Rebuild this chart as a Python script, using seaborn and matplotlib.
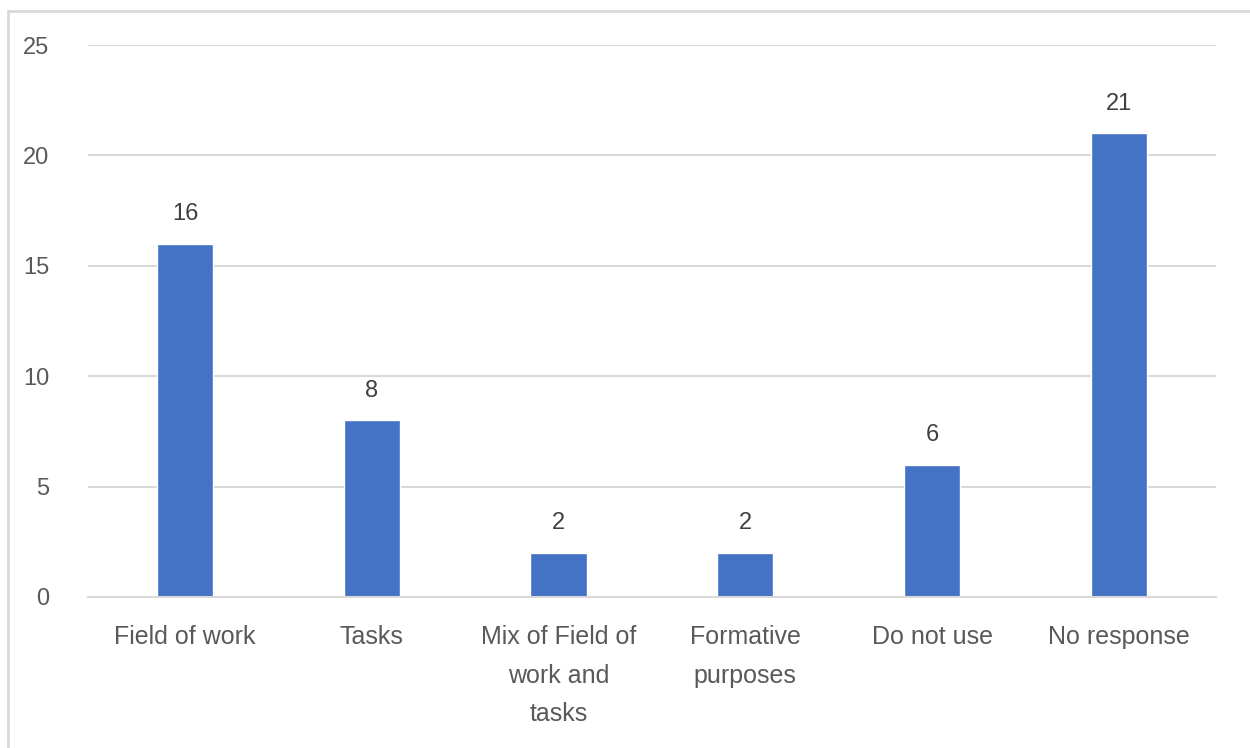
import matplotlib
matplotlib.use("Agg")
import matplotlib.pyplot as plt
import seaborn as sns
import pandas as pd
from matplotlib.patches import Rectangle

# data ------------------------------------------------------------------------
categories = ["Field of work", "Tasks", "Mix of Field of\nwork and\ntasks",
              "Formative\npurposes", "Do not use", "No response"]
counts = [16, 8, 2, 2, 6, 21]
y_ticks = [0, 5, 10, 15, 20, 25]

df = pd.DataFrame({"category": categories, "count": counts})

sns.set_style("white")
plt.rcParams["font.family"] = ["Liberation Sans", "DejaVu Sans"]

fig = plt.figure(figsize=(12.5, 7.48), dpi=100)
ax = fig.add_axes([0.0704, 0.2019, 0.9024, 0.7379])

sns.barplot(data=df, x="category", y="count", color="#4472C4",
            width=0.3, saturation=1, ax=ax)

# value labels
for i, v in enumerate(counts):
    ax.text(i, v + 1.35, str(v), ha="center", va="center",
            fontsize=17, color="#404040")

ax.set_ylim(0, 25)
ax.set_xlim(-0.519, 5.52)
ax.set_yticks(y_ticks)
ax.yaxis.grid(True, color="#D9D9D9", linewidth=1.5)
ax.set_axisbelow(True)
ax.set_xlabel("")
ax.set_ylabel("")
for s in ["top", "right", "left"]:
    ax.spines[s].set_visible(False)
ax.spines["bottom"].set_color("#D9D9D9")
ax.spines["bottom"].set_linewidth(1.5)
ax.tick_params(axis="y", length=0, labelsize=17, labelcolor="#595959", pad=28)
ax.tick_params(axis="x", length=0, labelsize=18, labelcolor="#595959", pad=20)
for lbl in ax.get_xticklabels():
    lbl.set_linespacing(1.78)

# chart border
fig.patches.append(Rectangle((8 / 1250, -0.01), 1.0, 1 - 11 / 748 + 0.01,
                             transform=fig.transFigure, fill=False,
                             edgecolor="#D9D9D9", linewidth=2))

fig.savefig("out.png", dpi=100)
